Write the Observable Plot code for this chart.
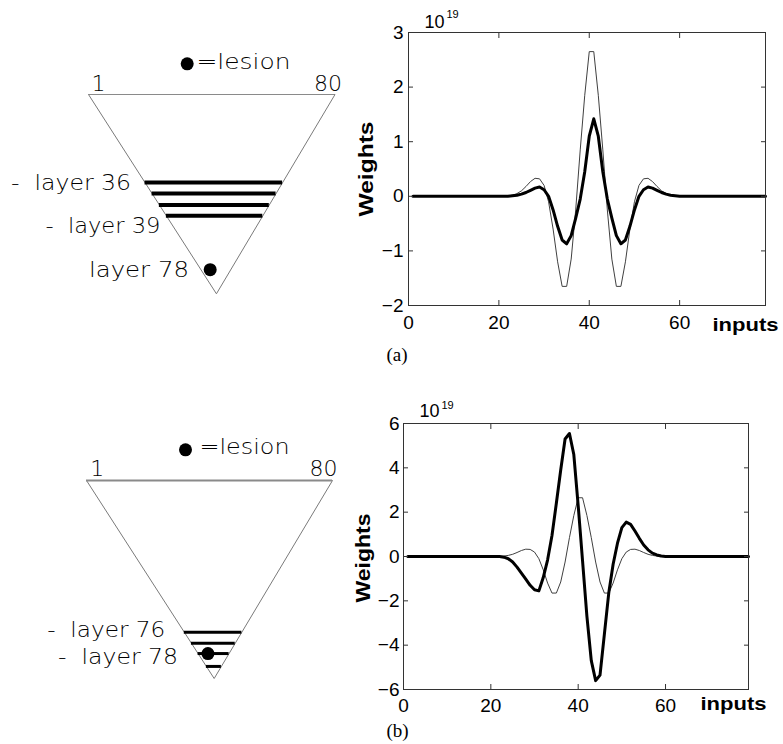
<!DOCTYPE html>
<html>
<head>
<meta charset="utf-8">
<script src="https://cdn.jsdelivr.net/npm/d3@7"></script>
<script src="https://cdn.jsdelivr.net/npm/@observablehq/plot@0.6"></script>
<style>
  body { margin: 0; background: #fff; }
  #fig { position: relative; width: 783px; height: 744px; overflow: hidden; background: #fff; }
  #fig > div { position: absolute; }
  svg { display: block; }
</style>
</head>
<body>
<div id="fig">
  <div id="triA" style="left:0;top:0;width:350px;height:320px"></div>
  <div id="plotA" style="left:350px;top:0;width:433px;height:375px"></div>
  <div id="triB" style="left:0;top:380px;width:350px;height:320px"></div>
  <div id="plotB" style="left:350px;top:380px;width:433px;height:364px"></div>
</div>
<script>
// ---------- weight curves (inputs 1..79), values in units of 1e19 ----------
const inputs = [1,2,3,4,5,6,7,8,9,10,11,12,13,14,15,16,17,18,19,20,
  21,22,23,24,25,26,27,28,29,30,31,32,33,34,35,36,37,38,39,40,
  41,42,43,44,45,46,47,48,49,50,51,52,53,54,55,56,57,58,59,60,
  61,62,63,64,65,66,67,68,69,70,71,72,73,74,75,76,77,78,79];

// thin curve: intact network (same in both panels)
const reference = [0,0,0,0,0,0,0,0,0,0, 0,0,0,0,0,0,0,0,0,0, 0,
  0.005,0.02,0.05,0.1,0.18,0.27,0.33,0.32,0.2,
  -0.1,-0.6,-1.2,-1.65,-1.65,-1.15,-0.25,0.85,1.85,2.65,
  2.65,1.85,0.85,-0.25,-1.15,-1.65,-1.65,-1.2,-0.6,-0.1,
  0.2,0.32,0.33,0.27,0.18,0.1,0.05,0.02,0.005,
  0,0,0,0,0,0,0,0,0,0, 0,0,0,0,0,0,0,0,0,0];

// thick curve, panel (a): lesion at layer 78, layers 36-39 shown
const lesionedA = [0,0,0,0,0,0,0,0,0,0, 0,0,0,0,0,0,0,0,0,0, 0,0,
  0.01,0.02,0.04,0.07,0.11,0.15,0.17,0.12,
  0,-0.25,-0.55,-0.8,-0.87,-0.72,-0.4,-0.05,0.45,1.1,
  1.42,1.1,0.45,-0.05,-0.4,-0.72,-0.87,-0.8,-0.55,-0.25,
  0,0.12,0.17,0.15,0.11,0.07,0.04,0.02,0.01,
  0,0,0,0,0,0,0,0,0,0, 0,0,0,0,0,0,0,0,0,0];

// thick curve, panel (b): lesion at layer 78, layers 76-79 shown
const lesionedB = [0,0,0,0,0,0,0,0,0,0, 0,0,0,0,0,0,0,0,0,0, 0,0,
  -0.03,-0.1,-0.25,-0.48,-0.75,-1.02,-1.3,-1.5,
  -1.55,-0.95,-0.15,0.95,2.4,3.9,5.3,5.55,4.6,2.3,
  -0.2,-2.7,-4.7,-5.6,-5.35,-3.5,-1.65,-0.35,0.6,1.3,
  1.55,1.45,1.15,0.82,0.52,0.3,0.15,0.07,0.02,
  0,0,0,0,0,0,0,0,0,0, 0,0,0,0,0,0,0,0,0,0];

const xDomain = [0, 79];
const xTicks = [0, 20, 40, 60];
const yDomainA = [-2, 3];
const yTicksA = [-2, -1, 0, 1, 2, 3];
const yDomainB = [-6, 6];
const yTicksB = [-6, -4, -2, 0, 2, 4, 6];
const exponentText = ["10", "19"];
const axisLabels = ["Weights", "inputs"];
const captions = ["(a)", "(b)"];

// ---------- schematic network triangle (x = input index, depth 0 = top .. 100 = apex) ----------
const triInputs = [1, 80];
const triApexInput = 42;
const triDepth = 100;
const legendText = "=lesion";
const bandLayersA = [36, 37, 38, 39];
const bandDepthsA = [44.2, 49.7, 55.4, 60.9];
const lesionA = {layer: 78, input: 40, depth: 87.9};
const labelsA = ["-  layer 36", "-  layer 39", "layer 78"];
const bandLayersB = [76, 77, 78, 79];
const bandDepthsB = [76.6, 82.2, 87.4, 93.9];
const lesionB = {layer: 78, input: 40, depth: 87.4};
const labelsB = ["-  layer 76", "-  layer 78"];

const sans = "'Liberation Sans', Arial, Helvetica, sans-serif";
const geo = "'DejaVu Sans', sans-serif";
const fmt = d3.format("d");

function stretch(svg, str, len) {
  d3.select(svg).selectAll("text")
    .filter(function () { return this.textContent === str; })
    .attr("textLength", len).attr("lengthAdjust", "spacingAndGlyphs");
}

function weightChart(o) {
  const table = inputs.map((x, i) => ({x, reference: reference[i], lesioned: o.lesioned[i]}));
  const blank = () => "";
  const svg = Plot.plot({
    width: o.width, height: o.height,
    marginLeft: o.mL, marginRight: o.mR, marginTop: o.mT, marginBottom: o.mB,
    x: {domain: xDomain, label: null},
    y: {domain: o.yDomain, label: null},
    style: {fontFamily: sans, fontSize: "19px", background: "transparent", color: "black", overflow: "visible"},
    marks: [
      Plot.line(table, {x: "x", y: "reference", stroke: "#404040", strokeWidth: 1}),
      Plot.line(table, {x: "x", y: "lesioned", stroke: "black", strokeWidth: 3, strokeLinejoin: "round"}),
      Plot.frame({stroke: "#333", strokeWidth: 1}),
      Plot.axisX({ticks: xTicks, tickSize: 0, tickPadding: o.xPad, tickFormat: fmt, fontSize: 19, label: null}),
      Plot.axisX({ticks: xTicks, anchor: "bottom", tickSize: -5, tickFormat: blank, label: null, stroke: "#333"}),
      Plot.axisX({ticks: xTicks, anchor: "top", tickSize: -5, tickFormat: blank, label: null, stroke: "#333"}),
      Plot.axisY({ticks: o.yTicks, tickSize: 0, tickPadding: o.yPad, tickFormat: fmt, fontSize: 19, label: null}),
      Plot.axisY({ticks: o.yTicks, anchor: "left", tickSize: -5, tickFormat: blank, label: null, stroke: "#333"}),
      Plot.axisY({ticks: o.yTicks, anchor: "right", tickSize: -5, tickFormat: blank, label: null, stroke: "#333"}),
      Plot.text([exponentText[0]], {frameAnchor: "top-left", text: d => d, textAnchor: "start", lineAnchor: "bottom", dx: o.expDx, dy: o.expDy, fontSize: 18}),
      Plot.text([exponentText[1]], {frameAnchor: "top-left", text: d => d, textAnchor: "start", lineAnchor: "bottom", dx: o.supDx, dy: o.supDy, fontSize: 11}),
      Plot.text([axisLabels[0]], {frameAnchor: "left", text: d => d, rotate: -90, textAnchor: "middle", lineAnchor: "bottom", dx: o.wDx, dy: o.wDy, fontWeight: "bold", fontSize: 20}),
      Plot.text([axisLabels[1]], {frameAnchor: "bottom-right", text: d => d, textAnchor: "start", lineAnchor: "bottom", dx: o.iDx, dy: o.iDy, fontWeight: "bold", fontSize: 19}),
      Plot.text([o.caption], {frameAnchor: "bottom-left", text: d => d, textAnchor: "start", lineAnchor: "bottom", dx: o.cDx, dy: o.cDy, fontFamily: "'Liberation Serif', 'Times New Roman', serif", fontSize: 19})
    ]
  });
  stretch(svg, axisLabels[0], o.wLen);
  stretch(svg, axisLabels[1], 66);
  return svg;
}

function triangle(o) {
  const apex = triApexInput;
  const leftEdge = d => triInputs[0] + (apex - triInputs[0]) * d / triDepth;
  const rightEdge = d => triInputs[1] - (triInputs[1] - apex) * d / triDepth;
  const outline = [
    {x: triInputs[0], depth: 0}, {x: triInputs[1], depth: 0},
    {x: apex, depth: triDepth}, {x: triInputs[0], depth: 0}
  ];
  const bands = o.layers.map((layer, i) => ({layer, depth: o.depths[i], x1: leftEdge(o.depths[i]), x2: rightEdge(o.depths[i])}));
  const lesionRow = {...o.lesion, x1: leftEdge(o.lesion.depth)};
  const marks = [
    Plot.line(outline, {x: "x", y: "depth", stroke: "#7a7a7a", strokeWidth: 1}),
    Plot.ruleY([{depth: 0}], {y: "depth", x1: () => triInputs[0], x2: () => triInputs[1], stroke: "#8a8a8a", strokeWidth: o.topWidth}),
    Plot.ruleY(bands, {y: "depth", x1: "x1", x2: "x2", stroke: "black", strokeWidth: o.bandWidth}),
    Plot.dot([o.lesion], {x: "input", y: "depth", r: 6.5, fill: "black", stroke: "none"}),
    Plot.text([triInputs[0]], {x: d => d, frameAnchor: "top", text: d => String(d), textAnchor: "middle", lineAnchor: "bottom", dx: o.oneDx, dy: o.numDy}),
    Plot.text([triInputs[1]], {x: d => d, frameAnchor: "top", text: d => String(d), textAnchor: "middle", lineAnchor: "bottom", dx: o.eightyDx, dy: o.numDy}),
    Plot.dot([legendText], {frameAnchor: "top-left", r: 6.5, fill: "black", stroke: "none", dx: o.legDotDx, dy: o.legDotDy}),
    Plot.text([legendText], {frameAnchor: "top-left", text: d => d, textAnchor: "start", lineAnchor: "middle", dx: o.legTextDx, dy: o.legTextDy})
  ];
  o.labels.forEach((lab, k) => {
    const row = o.labelRows[k] === "lesion" ? lesionRow : bands[o.labelRows[k]];
    marks.push(Plot.text([row], {x: "x1", y: "depth", text: () => lab, textAnchor: "end", lineAnchor: "middle", dx: o.labelDx[k], dy: o.labelDy[k]}));
  });
  const svg = Plot.plot({
    width: o.width, height: o.height,
    marginLeft: o.mL, marginRight: o.mR, marginTop: o.mT, marginBottom: o.mB,
    x: {domain: triInputs, axis: null},
    y: {domain: [0, triDepth], reverse: true, axis: null},
    style: {fontFamily: geo, fontSize: "22px", fontWeight: 200, background: "transparent", color: "black", overflow: "visible"},
    marks
  });
  o.labels.forEach((lab, k) => stretch(svg, lab, o.labelLen[k]));
  stretch(svg, legendText, o.legLen);
  return svg;
}

document.getElementById("plotA").append(weightChart({
  lesioned: lesionedA, yDomain: yDomainA, yTicks: yTicksA,
  width: 433, height: 375, mL: 58, mR: 18, mT: 32, mB: 70,
  xPad: 10, yPad: 5,
  expDx: 16, expDy: -5, supDx: 38, supDy: -14.5,
  wDx: -36, wDy: 0, wLen: 95,
  iDx: -53, iDy: 25,
  caption: captions[0], cDx: -22, cDy: 55
}));

document.getElementById("plotB").append(weightChart({
  lesioned: lesionedB, yDomain: yDomainB, yTicks: yTicksB,
  width: 433, height: 364, mL: 53, mR: 35, mT: 43, mB: 55,
  xPad: 9, yPad: 4,
  expDx: 16, expDy: -6.5, supDx: 38, supDy: -15,
  wDx: -34, wDy: 1.5, wLen: 89,
  iDx: -48, iDy: 20,
  caption: captions[1], cDx: -17, cDy: 47
}));

document.getElementById("triA").append(triangle({
  width: 350, height: 320, mL: 88, mR: 15.5, mT: 94, mB: 26.7,
  layers: bandLayersA, depths: bandDepthsA, lesion: lesionA,
  bandWidth: 4, topWidth: 1,
  labels: labelsA, labelRows: [0, 3, "lesion"], labelDx: [-14, -6, -12], labelDy: [0, 10, 0],
  labelLen: [120, 115, 100],
  oneDx: 10, eightyDx: -7, numDy: -4,
  legDotDx: 98.7, legDotDy: -30.7, legTextDx: 108, legTextDy: -33, legLen: 94
}));

document.getElementById("triB").append(triangle({
  width: 350, height: 320, mL: 86, mR: 18, mT: 100, mB: 22,
  layers: bandLayersB, depths: bandDepthsB, lesion: lesionB,
  bandWidth: 3, topWidth: 2,
  labels: labelsB, labelRows: [0, "lesion"], labelDx: [-19, -20], labelDy: [-2, 3],
  labelLen: [118, 120],
  oneDx: 10.7, eightyDx: -9, numDy: -5,
  legDotDx: 99, legDotDy: -30.7, legTextDx: 113, legTextDy: -34, legLen: 90
}));
</script>
</body>
</html>
